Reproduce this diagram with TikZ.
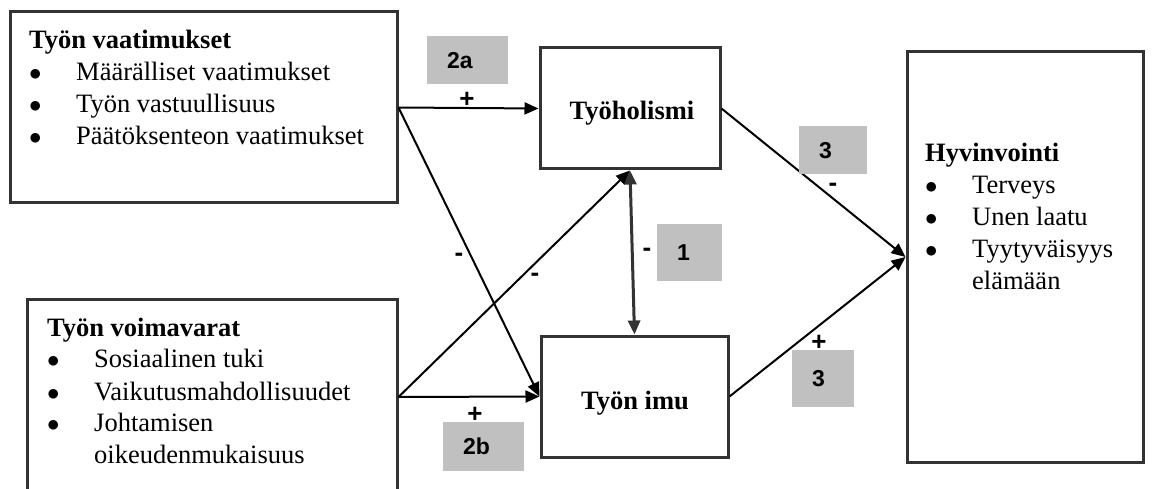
\documentclass[tikz,border=0pt]{standalone}
\usepackage{fontspec}
\setmainfont{Liberation Serif}
\newfontfamily\tagfont{Liberation Sans}
\usetikzlibrary{positioning,arrows.meta}
\definecolor{tagfill}{HTML}{C0C0C0}
\definecolor{edgegray}{HTML}{333333}
\newcommand{\bul}{\makebox[47pt][l]{$\bullet$}}

\begin{document}
\begin{tikzpicture}[x=1pt, y=-1pt,
    factor/.style={rectangle, draw=edgegray, line width=3pt, inner sep=0pt},
    listtext/.style={anchor=base west, inner sep=0pt, font=\fontsize{26.5}{32}\selectfont},
    boxtitle/.style={anchor=base, inner sep=0pt, font=\bfseries\fontsize{26.5}{32}\selectfont},
    tagbox/.style={fill=tagfill, inner xsep=20pt, inner ysep=0pt, align=left, anchor=north west,
        font=\tagfont\bfseries\fontsize{23}{24}\selectfont},
    polarity/.style={inner sep=0pt, font=\tagfont\bfseries\fontsize{26}{26}\selectfont},
    link/.style={-{Triangle[length=14pt,width=12pt]}, line width=2pt},
    mutual/.style={{Triangle[length=14pt,width=12pt]}-{Triangle[length=14pt,width=12pt]}, line width=3pt, draw=edgegray}
]
\useasboundingbox (0,0) rectangle (1152,489);

\node [factor, minimum width=387pt, minimum height=191pt] (Demands) at (203.5,107.5) {};
\node [factor, minimum width=370pt, minimum height=194pt] (Resources) at (212,397) {};
\node [factor, minimum width=180pt, minimum height=121pt] (Holism) at (630,108.5) {};
\node [factor, minimum width=187pt, minimum height=121pt] (Engage) at (634.5,396.5) {};
\node [factor, minimum width=236pt, minimum height=410pt] (Wellbeing) at (1025,257) {};

\node [listtext] (DemandsText) at (29,48.6) {\begin{tabular}[t]{@{}l@{}}
    \textbf{Työn vaatimukset}\\
    \bul Määrälliset vaatimukset\\
    \bul Työn vastuullisuus\\
    \bul Päätöksenteon vaatimukset
  \end{tabular}};
\node [listtext] (ResourcesText) at (47,336) {\begin{tabular}[t]{@{}l@{}}
    \textbf{Työn voimavarat}\\
    \bul Sosiaalinen tuki\\
    \bul Vaikutusmahdollisuudet\\
    \bul Johtamisen\\
    \hspace*{47pt}oikeudenmukaisuus
  \end{tabular}};
\node [listtext] (WellbeingText) at (925,162) {\begin{tabular}[t]{@{}l@{}}
    \textbf{Hyvinvointi}\\
    \bul Terveys\\
    \bul Unen laatu\\
    \bul Tyytyväisyys\\
    \hspace*{47pt}elämään
  \end{tabular}};
\node [boxtitle] (HolismText) at (632,120) {Työholismi};
\node [boxtitle] (EngageText) at (635,409) {Työn imu};

\draw [link] (Demands.east) -- (Holism.west);
\draw [link] (Demands.east) -- (Engage.west);
\draw [link] (Resources.east) -- (Engage.west);
\draw [link] (Resources.east) -- (Holism.south);
\draw [mutual] (Holism.south) -- (Engage.north);
\draw [link] (Holism.east) -- (Wellbeing.west);
\draw [link] (Engage.east) -- (Wellbeing.west);

\node [tagbox, text width=41pt, minimum height=48pt] (Tag2a) at (427,36) {2a};
\node [tagbox, text width=25pt, minimum height=57pt] (Tag1) at (657,224) {1};
\node [tagbox, text width=41pt, minimum height=49pt] (Tag2b) at (443,422) {2b};
\node [tagbox, text width=28pt, minimum height=48pt] (Tag3a) at (799,126) {3};
\node [tagbox, text width=22pt, minimum height=57pt] (Tag3b) at (792,350) {3};

\node [polarity] (SignDH) at (467,100) {+};
\node [polarity] (SignDE) at (459,257) {-};
\node [polarity] (SignRH) at (535,277) {-};
\node [polarity] (SignRE) at (475,415) {+};
\node [polarity] (SignHE) at (647,252) {-};
\node [polarity] (SignHW) at (833,187) {-};
\node [polarity] (SignEW) at (819,343) {+};

\end{tikzpicture}
\end{document}
